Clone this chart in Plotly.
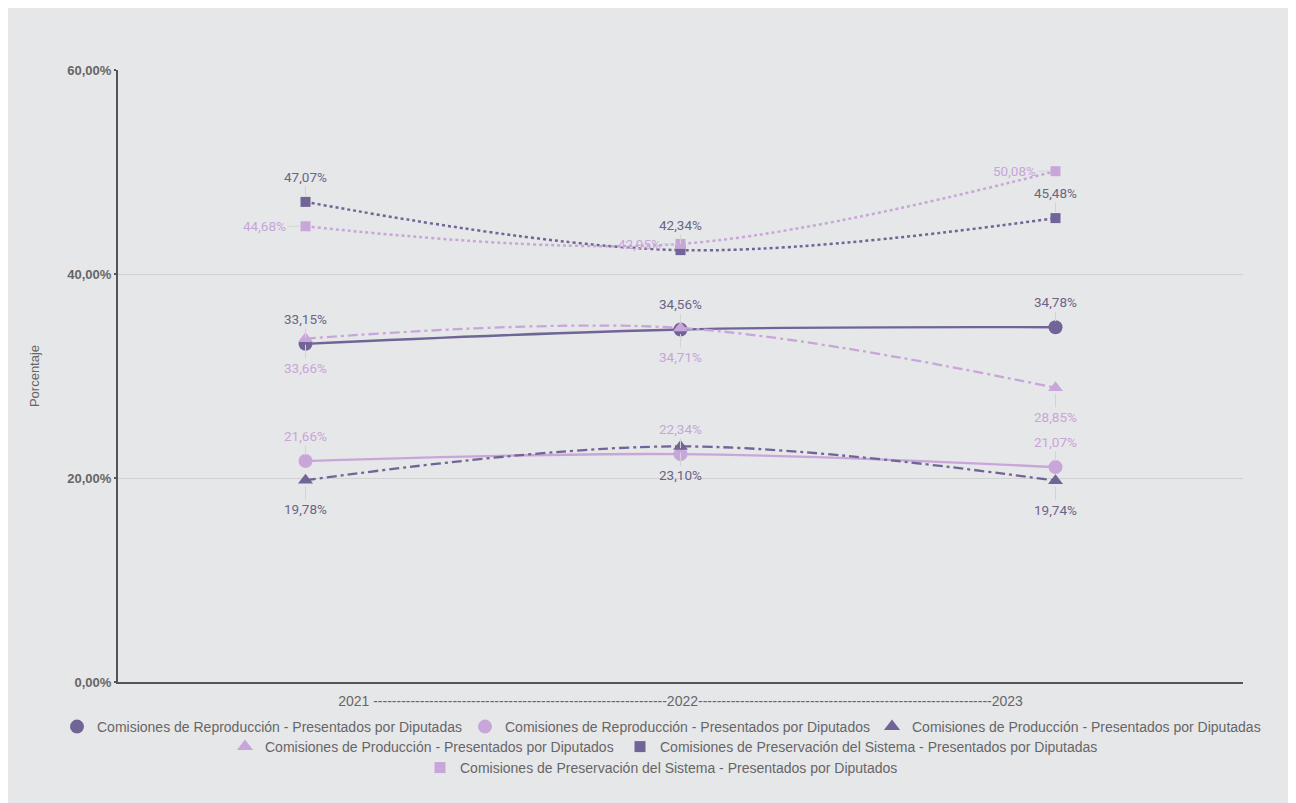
import plotly.graph_objects as go

years = ["2021", "2022", "2023"]

rep_diputadas = [33.15, 34.56, 34.78]
rep_diputados = [21.66, 22.34, 21.07]
prod_diputadas = [19.78, 23.10, 19.74]
prod_diputados = [33.66, 34.71, 28.85]
pres_diputadas = [47.07, 42.34, 45.48]
pres_diputados = [44.68, 42.95, 50.08]

names = [
    "Comisiones de Reproducción - Presentados por Diputadas",
    "Comisiones de Reproducción - Presentados por Diputados",
    "Comisiones de Producción - Presentados por Diputadas",
    "Comisiones de Producción - Presentados por Diputados",
    "Comisiones de Preservación del Sistema - Presentados por Diputadas",
    "Comisiones de Preservación del Sistema - Presentados por Diputados",
]

y_tickvals = [0, 20, 40, 60]
y_ticktext = ["0,00%", "20,00%", "40,00%", "60,00%"]
x_title = "2021 " + "-" * 63 + "2022" + "-" * 63 + "2023"

DARK = "#706596"
LIGHT = "#C9A6D9"
DARK_TXT = "#6B6486"
LIGHT_TXT = "#C8A5D8"
BG = "#E6E7E9"

series = [
    (rep_diputadas, DARK, DARK_TXT, "circle", 14, "solid", (0, -25)),
    (rep_diputados, LIGHT, LIGHT_TXT, "circle", 14, "solid", (0, -25)),
    (prod_diputadas, DARK, DARK_TXT, "triangle-up", 13, "10px,4px,3px,4px", (0, 29)),
    (prod_diputados, LIGHT, LIGHT_TXT, "triangle-up", 13, "10px,4px,3px,4px", (0, 29)),
    (pres_diputadas, DARK, DARK_TXT, "square", 10, "dot", (0, -25)),
    (pres_diputados, LIGHT, LIGHT_TXT, "square", 10, "dot", (-41, 0)),
]

# legend entry positions (page pixels): text start x, row centre y
legend_pos = [(97, 727), (505, 727), (912, 727), (265, 747), (660, 747), (460, 768)]

W, H = 1296, 803
OFF = 8  # page body margin
L, R, T, B = 110, 53, 62, 121
FW, FH = W - OFF, H - OFF
pw, ph = FW - L - R, FH - T - B


def px(x):
    return (x - OFF - L) / pw


def py(y):
    return (FH - B - (y - OFF)) / ph


fig = go.Figure()
annotations = []
for i, (vals, col, tcol, sym, size, dash, (ax, ay)) in enumerate(series):
    fig.add_trace(go.Scatter(
        x=years, y=vals, mode="lines+markers", name=names[i],
        line=dict(color=col, width=2.3 if dash != "dot" else 2.5, dash=dash,
                  shape="spline", smoothing=1.0),
        marker=dict(symbol=sym, size=size, color=col),
        showlegend=False, hoverinfo="skip",
    ))
    for k, v in enumerate(vals):
        annotations.append(dict(
            x=k, y=v, xref="x", yref="y",  # category index of years[k]
            text=f"{v:.2f}".replace(".", ",") + "%",
            showarrow=True, arrowhead=0, arrowwidth=1, arrowcolor="#D3D3D6",
            ax=ax, ay=ay, standoff=6,
            font=dict(family="Roboto", size=13.5, color=tcol),
        ))

legends = {}
for i, (vals, col, tcol, sym, size, dash, _) in enumerate(series):
    lid = "legend" if i == 0 else f"legend{i + 1}"
    fig.add_trace(go.Scatter(
        x=[None], y=[None], mode="markers", name=names[i],
        marker=dict(symbol=sym, size=14 if sym != "square" else 11, color=col),
        legend=lid, showlegend=True,
    ))
    tx, ty = legend_pos[i]
    legends[lid] = dict(
        orientation="h", xanchor="left", yanchor="middle",
        x=px(tx - 40), y=py(ty),
        bgcolor="rgba(0,0,0,0)", borderwidth=0,
        font=dict(family="Liberation Sans, Arial", size=14, color="#666666"),
        itemclick=False, itemdoubleclick=False,
    )

fig.update_layout(
    width=FW, height=FH,
    margin=dict(l=L, r=R, t=T, b=B),
    paper_bgcolor=BG,
    plot_bgcolor=BG,
    annotations=annotations,
    **legends,
    xaxis=dict(
        type="category", range=[-0.5, 2.5], showticklabels=False, showgrid=False,
        showline=True, linecolor="#555555", linewidth=2, zeroline=False,
        title=dict(text=x_title, standoff=13,
                   font=dict(family="Liberation Sans, Arial", size=14, color="#666666")),
    ),
    yaxis=dict(
        range=[0, 60], tickvals=y_tickvals, ticktext=y_ticktext,
        showgrid=True, gridcolor="#D1D1D4", gridwidth=1,
        showline=True, linecolor="#555555", linewidth=2, zeroline=False,
        ticks="outside", ticklen=2, tickwidth=2, tickcolor="#555555",
        tickfont=dict(family="Liberation Sans, Arial", size=13, color="#666666", weight="bold"),
        title=dict(text="Porcentaje", standoff=25,
                   font=dict(family="Liberation Sans, Arial", size=13, color="#666666")),
    ),
)

fig.write_html("out.html")
